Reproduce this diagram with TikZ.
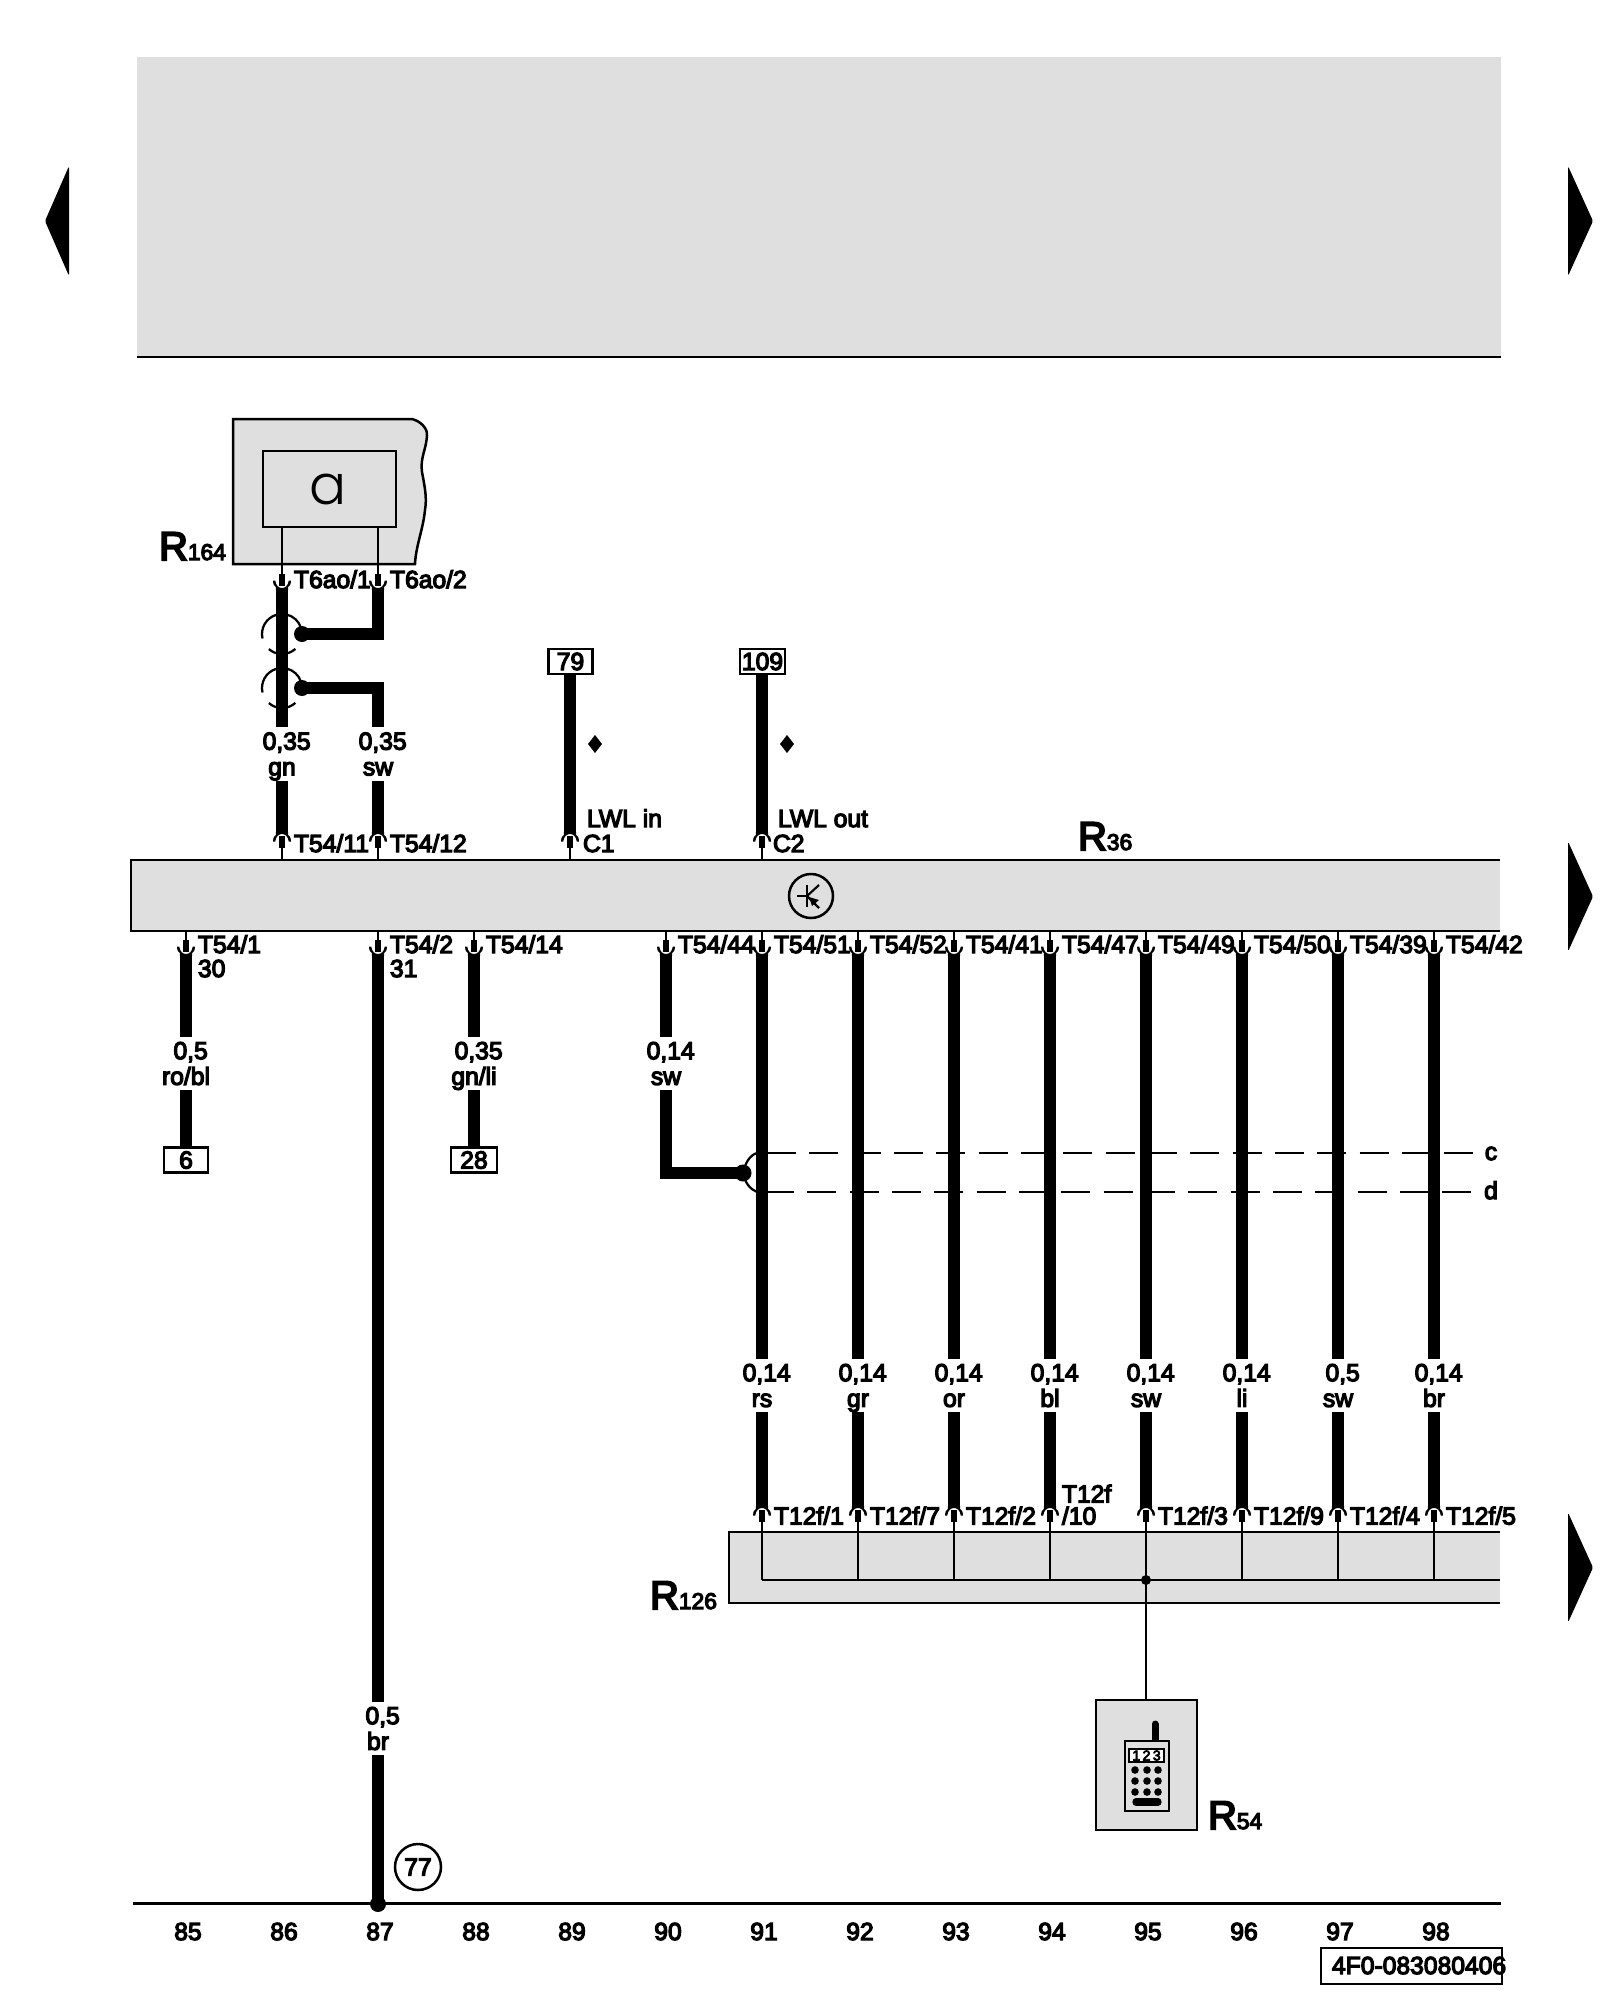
\documentclass[tikz,border=0pt]{standalone}
\usepackage{fontspec}
\setmainfont{Liberation Sans}[RawFeature={embolden=5}]
\newfontfamily\popfont{Poppins}[UprightFont=* Light]
\usetikzlibrary{calc}
\definecolor{panel}{HTML}{DFDFDF}
\tikzset{
  thinw/.style={line width=1.35pt,black},
  wire/.style={line width=7.4pt,black,line cap=butt},
  panelbox/.style={fill=panel,inner sep=0pt,outer sep=0pt},
  refbox/.style={draw=black,line width=1.5pt,fill=white,inner sep=0pt,outer sep=0pt,minimum width=26.4pt,minimum height=15pt,font=\lab},
  txt/.style={inner sep=0pt,outer sep=0pt,anchor=base west,font=\lab},
  num/.style={inner sep=0pt,outer sep=0pt,anchor=base,font=\lab},
  glab/.style={inner sep=0pt,outer sep=0pt,align=center,minimum height=31pt,minimum width=10pt,font=\lab},
  dashw/.style={line width=1.6pt,dash pattern=on 17.4pt off 8pt},
}
\newcommand{\lab}{\fontsize{14.8}{15.4}\selectfont}
\newcommand{\RR}[1]{{\fontsize{24}{24}\selectfont R\fontsize{13.7}{14}\selectfont #1}}
\newcommand{\GG}[2]{\mbox{\kern5.6pt #1}\rule{0pt}{13.4pt}\\#2\rule[-3.2pt]{0pt}{3.2pt}}
% name, x, y0, direction (1: wire below the connector, -1: wire above)
\newcommand{\Cnn}[4]{%
  \coordinate (#1) at (#2,#3);
  \begin{scope}[shift={(#2,#3)},yscale=#4]
    \fill[black] (-9,-7.5) .. controls (-8.5,-3) .. (-6.2,-1) -- (-6.2,2) -- (6.2,2) -- (6.2,-1)
      .. controls (8.5,-3) .. (9,-7.5) -- (6.8,-7.5) .. controls (6,-2) and (3,0) .. (0,0)
      .. controls (-3,0) and (-6,-2) .. (-6.8,-7.5) -- cycle;
    \fill[black] (-2.7,-14) rectangle (2.7,-2);
    \coordinate (#1b) at (0,-14);
  \end{scope}}
% shield arcs round a wire
\newcommand{\Shield}[2]{%
  \draw[thinw] ($(#1,#2)+(48:20)$) arc[start angle=48,end angle=131,radius=20];
  \draw[thinw] ($(#1,#2)+(167:20)$) arc[start angle=167,end angle=253,radius=20];
  \draw[thinw] ($(#1,#2)+(285:20)$) arc[start angle=285,end angle=340,radius=20];}
% id, x, T54 label, T12f label, gauge, colour
\newcommand{\Col}[6]{%
  \Cnn{t#1}{#2}{954}{1}
  \Cnn{u#1}{#2}{1508}{-1}
  \draw[thinw] (t#1b) -- (t#1b |- r36.south);
  \draw[thinw] (u#1b) -- (u#1b |- r126.north);
  \draw[thinw] (u#1b |- r126.north) -- (u#1b |- bus);
  \node[glab] (g#1) at (#2,1385.5) {\GG{#5}{#6}};
  \draw[wire] (t#1) -- (g#1.north);
  \draw[wire] (g#1.south) -- (u#1);
  \node[txt] (lt#1) at ($(#2,953)+(12,0)$) {#3};
  \node[txt] (lu#1) at ($(#2,1524.5)+(12,0)$) {#4};}
\begin{document}
\begin{tikzpicture}[x=0.6pt,y=-0.6pt]
\useasboundingbox (0,0) rectangle (1600,2000);
% header
\fill[panel] (137,57) rectangle (1501,357);
\draw[line width=1.5pt] (137,357) -- (1501,357);
% page arrows
\fill[black,rounded corners=1pt] (45,221) -- (69,166) -- (69,276) -- cycle;
\foreach \yy in {221,896.5,1567.5}
  \fill[black,rounded corners=1pt] (1593,\yy) -- (1568,\yy-55) -- (1568,\yy+55) -- cycle;
% R164
\filldraw[fill=panel,line width=1.5pt] (233,419) -- (412,419) .. controls (420,421) and (428,428) .. (427,436)
  .. controls (426,450) and (420,458) .. (422,472) .. controls (425,488) and (427,498) .. (425,510)
  .. controls (423,530) and (416,545) .. (415,564) -- (233,564) -- cycle;
\node[panelbox,draw=black,line width=1.5pt,minimum width=79.8pt,minimum height=45.6pt] (ra) at (329.5,489) {};
\node[inner sep=0pt] (ratxt) at (328,489) {\fontsize{33}{33}\popfont a};
\node[txt] (r164lab) at (159,560) {\RR{164}};
% R36
\node[panelbox,minimum width=1369*0.6pt,minimum height=71*0.6pt] (r36) at (815.5,895.5) {};
\draw[line width=1.5pt] (r36.north east) -- (r36.north west) -- (r36.south west) -- (r36.south east);
\node[txt] (r36lab) at (1078,850) {\RR{36}};
\node[circle,draw=black,line width=1.5pt,minimum size=22*1.2pt,inner sep=0pt] (sym) at (811,896) {};
\draw[line width=1.3pt] ($(sym)+(-14,0)$) -- ($(sym)+(-4,0)$);
\draw[line width=1.3pt] ($(sym)+(-4,-11)$) -- ($(sym)+(-4,11)$);
\draw[line width=1.3pt] ($(sym)+(-4,0)$) -- ($(sym)+(8,-11)$);
\draw[line width=1.3pt] ($(sym)+(-4,0)$) -- ($(sym)+(8,12)$);
\fill[black] ($(sym)+(-2,1)$) -- ($(sym)+(8,4)$) -- ($(sym)+(1,10)$) -- cycle;
% R126
\node[panelbox,minimum width=771*0.6pt,minimum height=71*0.6pt] (r126) at (1114.5,1567.5) {};
\draw[line width=1.5pt] (r126.north east) -- (r126.north west) -- (r126.south west) -- (r126.south east);
\coordinate (bus) at (762,1580);
\coordinate (busend) at (1500,1580);
\draw[line width=1.5pt] (bus) -- (busend);
\node[txt] (r126lab) at (650,1609) {\RR{126}};
% shield lines
\draw[thinw] (757,1153) .. controls (750,1155) and (745,1163) .. (743,1173) .. controls (745,1183) and (750,1189) .. (757,1192);
\coordinate (ce) at (1473,1153);
\coordinate (de) at (1473,1192);
\draw[thinw] (757,1153) -- (770,1153);
\draw[thinw] (757,1192) -- (770,1192);
\draw[dashw] (767,1153) -- (ce);
\draw[dashw] (765,1192) -- (de);
\node[num] (clab) at (1491,1160) {c};
\node[num] (dlab) at (1491,1199) {d};
% columns 91..98
\Col{91}{762}{T54/51}{T12f/1}{0,14}{rs}
\Col{92}{858}{T54/52}{T12f/7}{0,14}{gr}
\Col{93}{954}{T54/41}{T12f/2}{0,14}{or}
\Col{94}{1050}{T54/47}{}{0,14}{bl}
\Col{95}{1146}{T54/49}{T12f/3}{0,14}{sw}
\Col{96}{1242}{T54/50}{T12f/9}{0,14}{li}
\Col{97}{1338}{T54/39}{T12f/4}{0,5}{sw}
\Col{98}{1434}{T54/42}{T12f/5}{0,14}{br}
\node[txt] (t12a) at (1062,1502.5) {T12f};
\node[txt] (t12b) at (1062,1524.5) {/10};
\fill[black] (u95b |- bus) circle (5);
% R54
\node[panelbox,draw=black,line width=1.5pt,minimum width=101*0.6pt,minimum height=130*0.6pt] (r54) at (1146.5,1765) {};
\draw[thinw] (u95b |- bus) -- (r54.north -| u95b);
\node[txt] (r54lab) at (1208,1829) {\RR{54}};
\draw[line width=4.2pt,line cap=round] (1155,1724) -- (1155,1741);
\filldraw[fill=panel,line width=1.5pt] (1125,1741) rectangle (1169,1811);
\filldraw[fill=white,line width=1.5pt] (1129,1749) rectangle (1164,1762);
\node[inner sep=0pt,font=\fontsize{8.5}{8.5}\selectfont] (dsp) at (1146.5,1755.5) {1\,2\,3};
\foreach \xx in {1135,1147,1158} \foreach \yy in {1770,1781,1792} \fill[black] (\xx,\yy) circle (3.8);
\draw[line width=4.4pt,line cap=round] (1136,1802) -- (1158,1802);
% col 85
\Cnn{t85}{186}{954}{1}
\draw[thinw] (t85b) -- (t85b |- r36.south);
\node[glab] (g85) at (186,1063.5) {\GG{0,5}{ro/bl}};
\node[refbox] (b6) at (186,1160) {6};
\draw[wire] (t85) -- (g85.north);
\draw[wire] (g85.south) -- (b6.north);
\node[txt] (l85) at (198,953) {T54/1};
\node[txt] (l85b) at (198,977) {30};
% col 87 below
\Cnn{t87}{378}{954}{1}
\draw[thinw] (t87b) -- (t87b |- r36.south);
\node[glab] (g87) at (378,1728.5) {\GG{0,5}{br}};
\coordinate (gnd) at (378,1904);
\draw[wire] (t87) -- (g87.north);
\draw[wire] (g87.south) -- (gnd);
\fill[black] (gnd) circle (8);
\node[txt] (l87) at (390,953) {T54/2};
\node[txt] (l87b) at (390,977) {31};
\node[circle,draw=black,line width=1.5pt,minimum size=46*0.6pt,inner sep=0pt,font=\lab] (c77) at (418,1867) {77};
% col 88
\Cnn{t88}{474}{954}{1}
\draw[thinw] (t88b) -- (t88b |- r36.south);
\node[glab] (g88) at (474,1063.5) {\GG{0,35}{gn/li}};
\node[refbox,minimum width=46*0.6pt] (b28) at (474,1160) {28};
\draw[wire] (t88) -- (g88.north);
\draw[wire] (g88.south) -- (b28.north);
\node[txt] (l88) at (486,953) {T54/14};
% col 90
\Cnn{t90}{666}{954}{1}
\draw[thinw] (t90b) -- (t90b |- r36.south);
\node[glab] (g90) at (666,1063.5) {\GG{0,14}{sw}};
\coordinate (bend) at (666,1173);
\coordinate (sdot) at (743,1173);
\draw[wire] (t90) -- (g90.north);
\draw[wire] (g90.south) -- (bend) -- (sdot);
\fill[black] (sdot) circle (8.5);
\node[txt] (l90) at (678,953) {T54/44};
% cols 86, 87 above
\Shield{282}{634}
\Shield{282}{688}
\Cnn{a86}{282}{588}{1}
\Cnn{a87}{378}{588}{1}
\Cnn{b86}{282}{834}{-1}
\Cnn{b87}{378}{834}{-1}
\draw[thinw] (a86b) -- (a86b |- ra.south);
\draw[thinw] (a87b) -- (a87b |- ra.south);
\draw[thinw] (b86b) -- (b86b |- r36.north);
\draw[thinw] (b87b) -- (b87b |- r36.north);
\node[glab,minimum height=52*0.6pt] (g86) at (282,754) {\GG{0,35}{gn}};
\node[glab,minimum height=52*0.6pt] (g87u) at (378,754) {\GG{0,35}{sw}};
\draw[wire] (a86) -- (g86.north);
\draw[wire] (g86.south) -- (b86);
\coordinate (s1) at (302,634);
\coordinate (s2) at (302,688);
\draw[wire] (a87) -- (378,640);
\draw[wire] (g87u.south) -- (b87);
\draw[wire] (s1) -- (384,634);
\draw[wire] (s2) -- (384,688) ;
\draw[wire] (378,682) -- (g87u.north);
\fill[black] (s1) circle (8);
\fill[black] (s2) circle (8);
\node[txt] (l1) at (294,588) {T6ao/1};
\node[txt] (l2) at (390,588) {T6ao/2};
\node[txt] (l3) at (294,852) {T54/11};
\node[txt] (l4) at (390,852) {T54/12};
% LWL
\node[refbox,minimum width=44*0.6pt] (b79) at (570.5,661.5) {79};
\node[refbox,minimum width=45*0.6pt] (b109) at (762.5,661.5) {109};
\Cnn{b89}{570}{834}{-1}
\Cnn{b91}{762}{834}{-1}
\draw[wire] (b79.south -| b89) -- (b89);
\draw[wire] (b109.south -| b91) -- (b91);
\draw[thinw] (b89b) -- (b89b |- r36.north);
\draw[thinw] (b91b) -- (b91b |- r36.north);
\fill[black] (595,735) -- (602,744) -- (595,753) -- (588,744) -- cycle;
\fill[black] (787,735) -- (794,744) -- (787,753) -- (780,744) -- cycle;
\node[txt] (lwl1) at (587,827) {LWL in};
\node[txt] (lwl2) at (778,827) {LWL out};
\node[txt] (c1) at (583,852) {C1};
\node[txt] (c2) at (773,852) {C2};
% baseline
\coordinate (bl) at (133,1903.5);
\draw[line width=1.5pt] (bl) -- (1501,1903.5);
\foreach \nn/\xx in {85/188,86/284,87/380,88/476,89/572,90/668,91/764,92/860,93/956,94/1052,95/1148,96/1244,97/1340,98/1436}
  \node[num] (n\nn) at (\xx,1940) {\nn};
\node[draw=black,line width=1.5pt,inner sep=0pt,minimum width=181*0.6pt,minimum height=36*0.6pt] (idb) at (1411.5,1966) {};
\node[txt] (idt) at (1332,1974) {4F0-083080406};
\end{tikzpicture}
\end{document}
